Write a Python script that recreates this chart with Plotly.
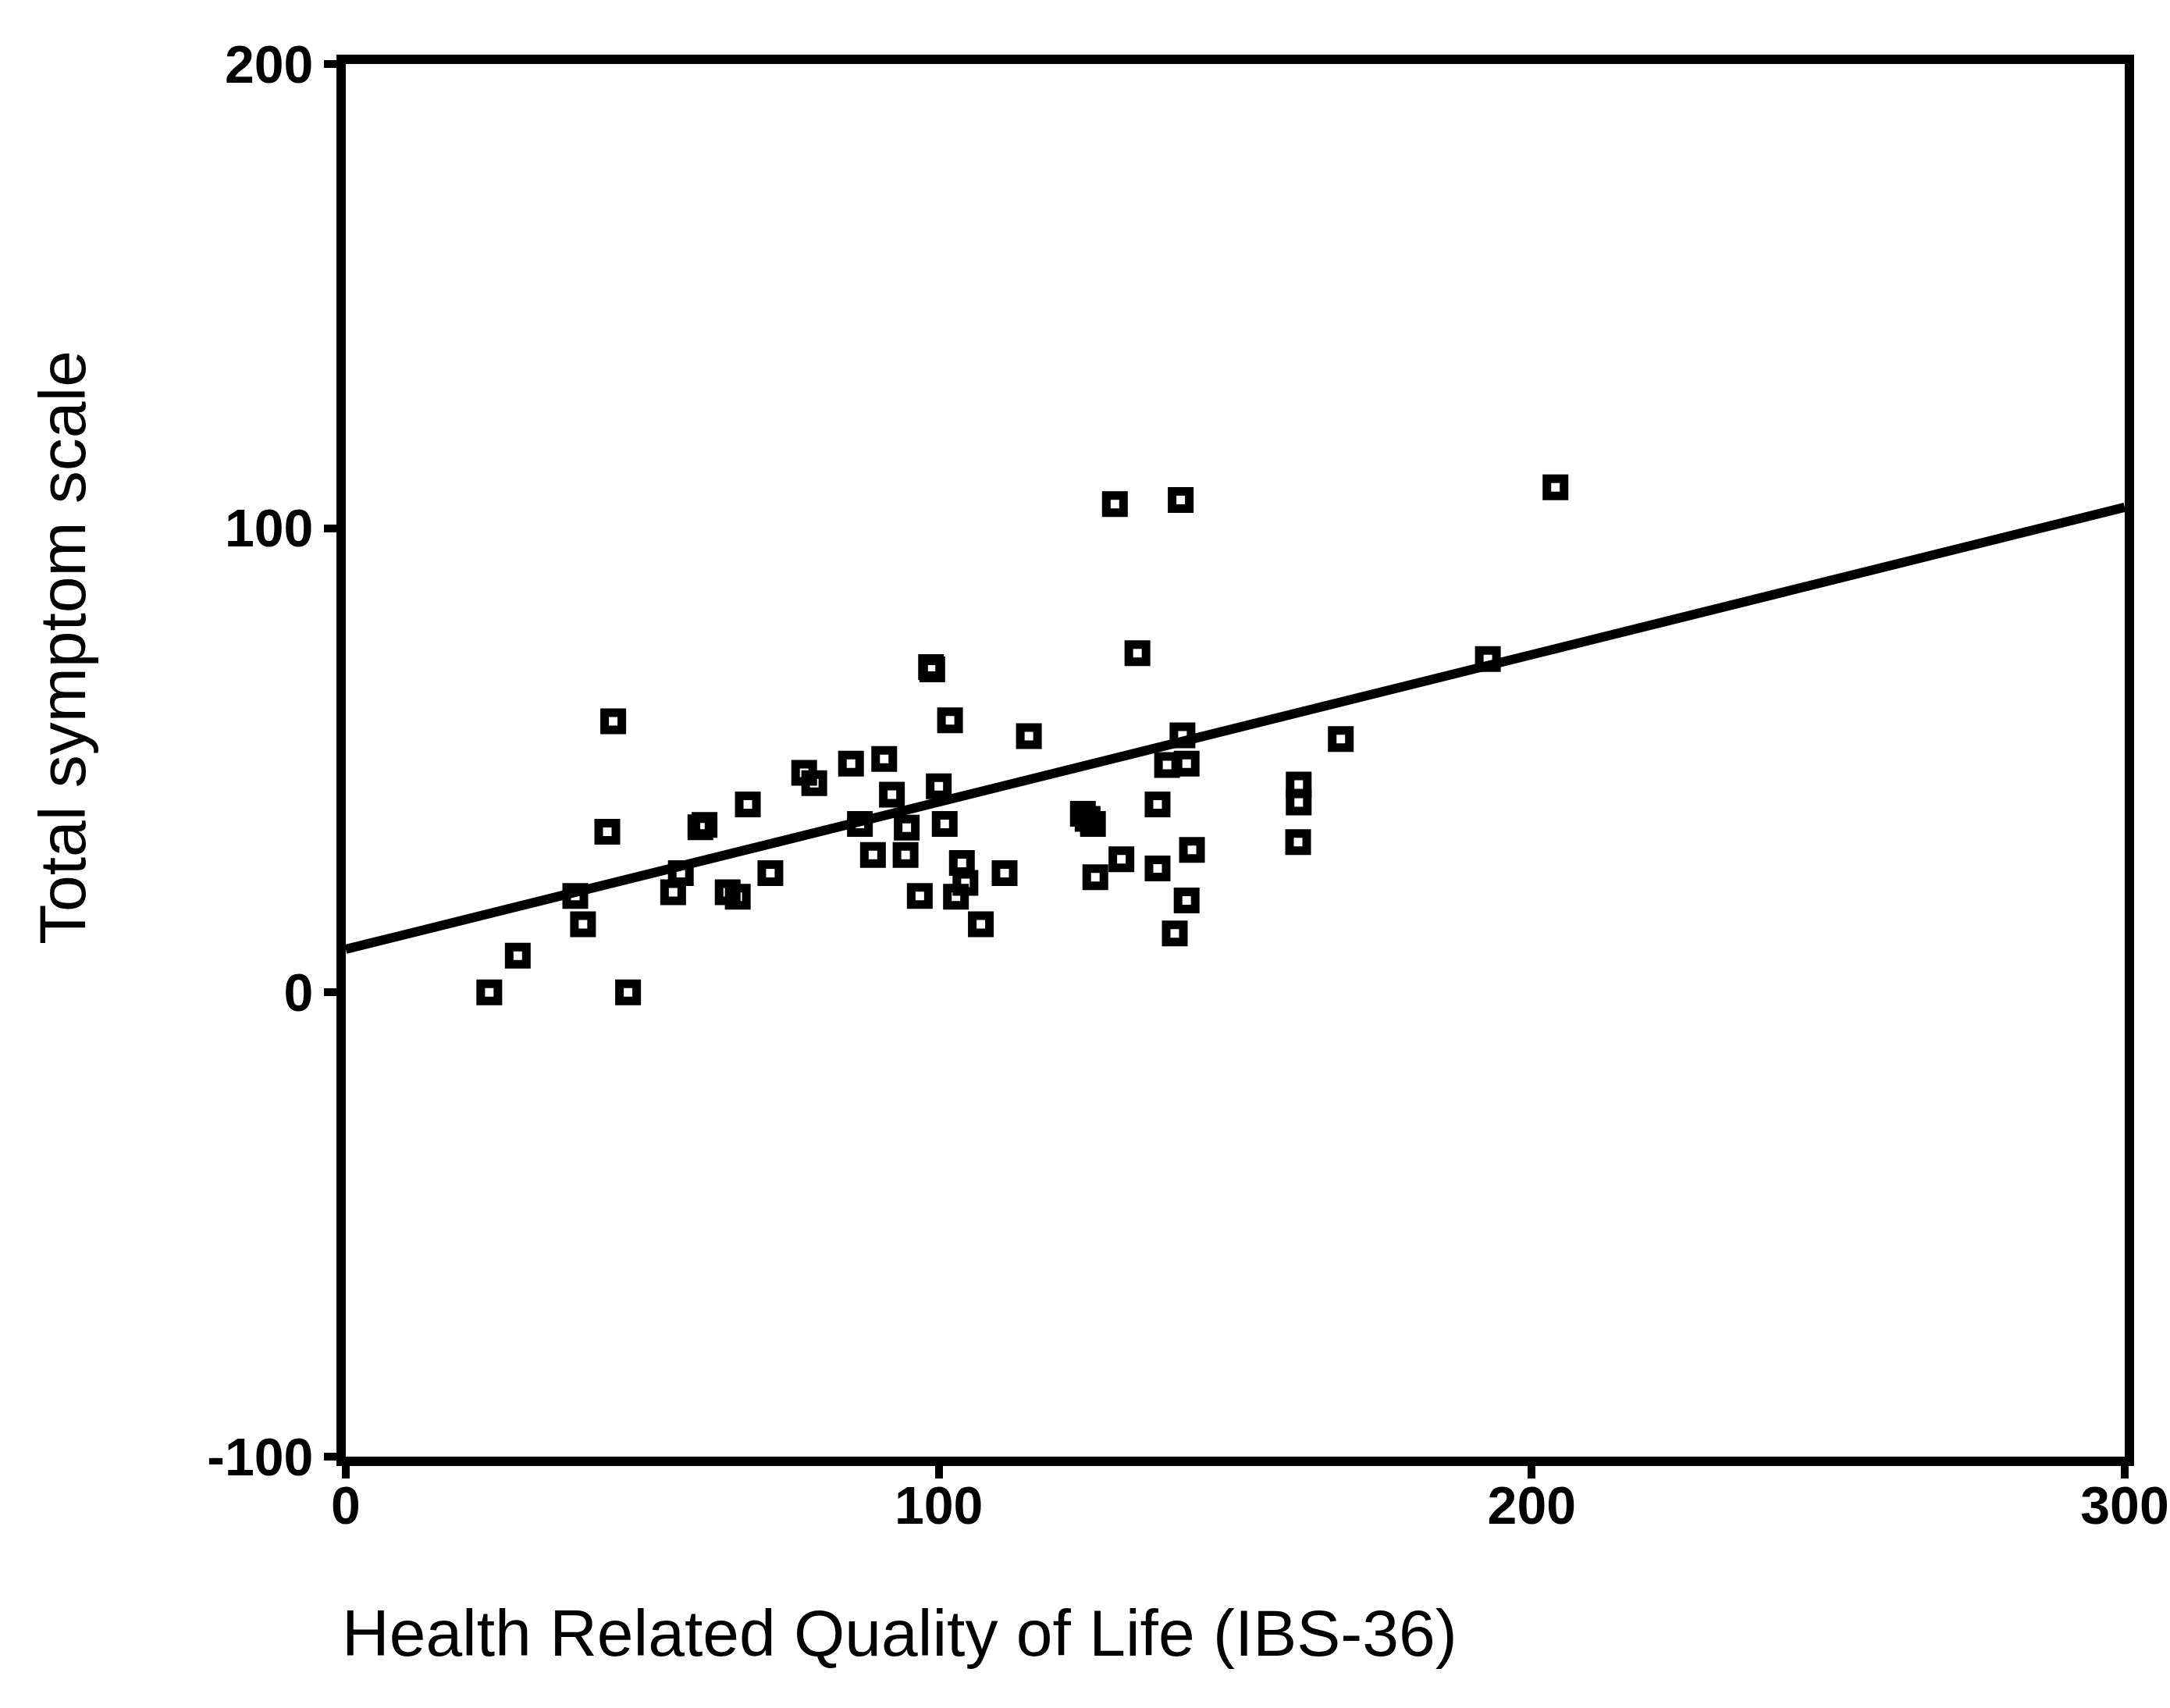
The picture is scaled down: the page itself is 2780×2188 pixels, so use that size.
import plotly.graph_objects as go

# Health related quality of life (IBS-36) vs. total symptom scale, one point per patient
qol_ibs36 = [
    24.2, 29.0, 38.7, 40.0, 44.1, 45.1, 47.6, 55.2, 56.5, 59.8,
    60.5, 64.4, 66.1, 67.8, 71.6, 77.3, 79.0, 85.2, 86.7, 88.9,
    90.8, 92.1, 94.6, 94.4, 96.8, 98.7, 98.9, 100.0, 101.0, 101.9,
    102.9, 103.9, 104.5, 107.1, 111.1, 115.2, 124.3, 125.1, 126.0, 126.4,
    129.7, 130.8, 133.5, 136.9, 136.9, 138.5, 139.8, 140.8, 141.1, 141.8,
    141.8, 142.7, 160.7, 160.7, 160.6, 167.8, 192.6, 204.0,
]
symptom_total = [
    0.0, 7.9, 20.8, 14.7, 34.6, 58.4, 0.0, 21.6, 25.7, 35.6,
    36.1, 21.6, 20.6, 40.5, 25.7, 47.3, 45.1, 49.3, 36.3, 29.6,
    50.3, 42.6, 35.5, 29.6, 20.8, 70.1, 69.6, 44.4, 36.3, 58.6,
    20.6, 27.9, 23.6, 14.7, 25.7, 55.2, 38.5, 37.4, 36.3, 24.8,
    105.2, 28.7, 73.1, 26.7, 40.5, 49.0, 12.7, 106.1, 55.4, 49.3,
    19.8, 30.7, 44.8, 40.9, 32.4, 54.6, 71.8, 108.8,
]

# Least-squares line across the full x range
fit_x = [0, 300]
fit_y = [9.3, 104.5]

x_ticks = [0, 100, 200, 300]
x_tick_text = ["0", "100", "200", "300"]
y_ticks = [-100, 0, 100, 200]
y_tick_text = ["-100", "0", "100", "200"]

W, H = 2780, 2188
left, right, top, bottom = 443, 2722, 82, 1866
plot_w = right - left
plot_h = bottom - top

fig = go.Figure()

fig.add_trace(go.Scatter(
    x=fit_x, y=fit_y, mode="lines",
    line=dict(color="black", width=12),
    showlegend=False, hoverinfo="skip",
))

fig.add_trace(go.Scatter(
    x=qol_ibs36, y=symptom_total, mode="markers",
    marker=dict(symbol="square-open", size=22, color="black",
                line=dict(color="black", width=11)),
    showlegend=False,
))

tick_font = dict(family="Liberation Sans, Arial, sans-serif", size=68,
                 color="black", weight="bold")
title_font = dict(family="Liberation Sans, Arial, sans-serif", size=84,
                  color="black")

axis_common = dict(
    showline=True, linecolor="black", linewidth=12, mirror=True,
    ticks="outside", ticklen=16, tickwidth=10, tickcolor="black",
    showgrid=False, zeroline=False, tickfont=tick_font,
)

fig.update_xaxes(range=[0, 300], tickvals=x_ticks, ticktext=x_tick_text,
                 ticklabelstandoff=-24, **axis_common)
fig.update_yaxes(range=[-100, 200], tickvals=y_ticks, ticktext=y_tick_text,
                 **axis_common)

fig.add_annotation(
    text="Health Related Quality of Life (IBS-36)",
    xref="paper", yref="paper",
    x=(436 - left) / plot_w, y=(bottom - 2092) / plot_h,
    xanchor="left", yanchor="middle", showarrow=False, font=title_font,
)
fig.add_annotation(
    text="Total symptom scale",
    xref="paper", yref="paper",
    x=(80 - left) / plot_w, y=(bottom - 830) / plot_h,
    xanchor="center", yanchor="middle", textangle=-90,
    showarrow=False, font=title_font,
)

fig.update_layout(
    width=W, height=H,
    margin=dict(l=left, r=W - right, t=top, b=H - bottom, autoexpand=False),
    paper_bgcolor="white", plot_bgcolor="white",
)

fig.write_html("out.html")
